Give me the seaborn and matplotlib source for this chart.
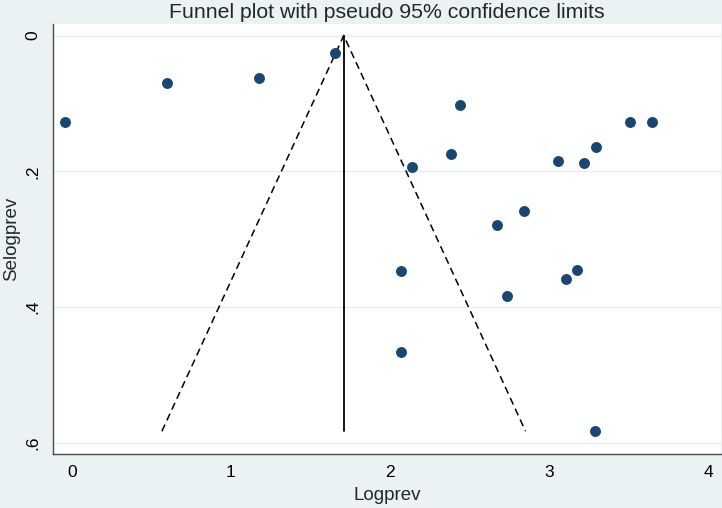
import seaborn as sns
import pandas as pd
import numpy as np
import matplotlib.pyplot as plt

# study estimates
logprev = [-0.042, 0.598, 1.177, 1.657, 2.439, 2.385, 2.137, 3.054, 3.222, 3.295,
           3.509, 3.646, 2.672, 2.840, 2.068, 2.072, 2.733, 3.104, 3.176, 3.287]
selogprev = [0.127, 0.070, 0.062, 0.025, 0.102, 0.174, 0.194, 0.185, 0.188, 0.164,
             0.128, 0.127, 0.279, 0.258, 0.347, 0.466, 0.384, 0.359, 0.345, 0.583]
theta = 1.709   # pooled estimate (apex of funnel)
z95 = 1.96

xticks = [0, 1, 2, 3, 4]
yticks = [0, 0.2, 0.4, 0.6]
ytick_labels = ['0', '.2', '.4', '.6']

df = pd.DataFrame({'Logprev': logprev, 'Selogprev': selogprev})

sns.set_style('white')
plt.rcParams['font.family'] = ['Liberation Sans', 'DejaVu Sans']

W, H = 722, 508
fig = plt.figure(figsize=(W / 100, H / 100), dpi=100, facecolor='#EAF2F3')
ax = fig.add_axes([52.7 / W, 1 - 454.3 / H, (721 - 52.7) / W, (454.3 - 24) / H])
ax.set_facecolor('white')

# funnel: vertical line at pooled estimate and pseudo 95% limits
semax = df['Selogprev'].max()
funnel = pd.DataFrame({
    'x': [theta - z95 * semax, theta, theta + z95 * semax],
    'y': [semax, 0, semax],
})
ax.plot(funnel['x'], funnel['y'], color='black', lw=1.1, ls=(0, (4.8, 3.0)), zorder=2)
ax.plot([theta, theta], [0, semax], color='black', lw=1.3, zorder=2)

sns.scatterplot(data=df, x='Logprev', y='Selogprev', ax=ax, color='#1A476F',
                s=62, edgecolor='#1A476F', linewidth=0, zorder=3)

ax.set_xlim(-0.12, 4.08)
ax.set_ylim(0.617, -0.017)
ax.set_xticks(xticks)
ax.set_xticklabels([str(t) for t in xticks])
ax.set_yticks(yticks)
ax.set_yticklabels(ytick_labels, rotation=90, va='center')

ax.yaxis.grid(True, color='#E4EDF0', lw=1.0)
ax.xaxis.grid(False)
ax.set_axisbelow(True)

for side in ['top', 'right']:
    ax.spines[side].set_visible(False)
for side in ['left', 'bottom']:
    ax.spines[side].set_color('#4A4A4A')
    ax.spines[side].set_linewidth(1.0)

ax.tick_params(axis='both', direction='out', length=4.5, width=1.0, color='#4A4A4A',
               labelsize=12.5, labelcolor='black')
ax.tick_params(axis='x', pad=3)
ax.tick_params(axis='y', pad=4.5)

ax.set_xlabel('Logprev', fontsize=13.5, labelpad=5)
ax.set_ylabel('Selogprev', fontsize=13.5, labelpad=4)

# title centred over the plot region, as Stata does
ax.set_title('Funnel plot with pseudo 95% confidence limits', fontsize=15.3, pad=4)

fig.savefig('out.png', dpi=100, facecolor=fig.get_facecolor())
